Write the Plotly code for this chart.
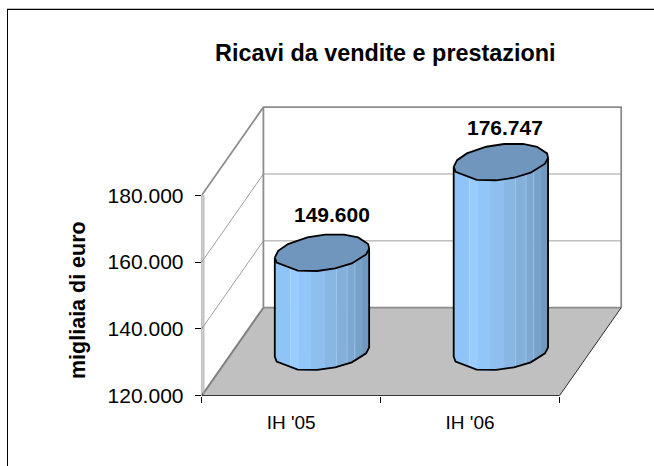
import math
import plotly.graph_objects as go

categories = ["IH '05", "IH '06"]
values = [149600, 176747]
value_labels = ["149.600", "176.747"]
y_ticks = [120000, 140000, 160000, 180000]
y_tick_labels = ["120.000", "140.000", "160.000", "180.000"]
title = "Ricavi da vendite e prestazioni"
y_title = "migliaia di euro"

W, H = 654, 466
LEFT_PX, BASE_PX = 201.7, 395.7
PX_X = 178.9          # pixels per category
PX_Y = 200.5 / 60000  # pixels per value unit
DX = 61.7 / PX_X      # depth shift in category units
DY = 88.0 / PX_Y      # depth shift in value units
Y0, Y1 = 120000, 180000

# cylinder shape: facet angles (deg), colours of the visible facets, outline angles
facet_angles = [-165, -116, -103, -87, -70, -56, -42, -30, -14, 13]
front_angles = [-165, -148, -105, -80, -58, -35, -5, 13]
back_angles = [28, 56, 78, 102, 124, 152, 174]
facet_colors = ["#8FC4F8", "#99CCFF", "#93C6F8", "#8EBFEE", "#89B7E4",
                "#83AFDB", "#7DA8D2", "#78A1C9", "#7098C0"]
seams = [-116, -56, -42, -30]
top_color = "#7096BE"
RX = 45.4 / PX_X
RD = 0.21


def ring(cx, val, t):
    r = math.radians(t)
    return (cx + DX / 2 + RX * math.cos(r) + RD * DX * math.sin(r),
            val + DY / 2 + RD * DY * math.sin(r))


fig = go.Figure()


def poly(xs, ys, fill=None, color=None, width=0, close=True):
    if close:
        xs, ys = list(xs) + [xs[0]], list(ys) + [ys[0]]
    fig.add_trace(go.Scatter(
        x=xs, y=ys, mode="lines", fill="toself" if fill else None,
        fillcolor=fill, cliponaxis=False, hoverinfo="skip", showlegend=False,
        line=dict(color=color or "rgba(0,0,0,0)", width=width)))


n = len(categories)
# floor
poly([0, n, n + DX, DX], [Y0, Y0, Y0 + DY, Y0 + DY], fill="#C0C0C0")
# grid on the walls
for v in y_ticks[1:-1]:
    poly([0, DX, n + DX], [v, v + DY, v + DY], color="#9E9E9E", width=1, close=False)
# wall edges
poly([0, DX, n + DX, n + DX], [Y1, Y1 + DY, Y1 + DY, Y0 + DY],
     color="#8C8C8C", width=1.8, close=False)
poly([DX, DX], [Y1 + DY, Y0 + DY], color="#8C8C8C", width=1.8, close=False)
poly([DX, n + DX], [Y0 + DY, Y0 + DY], color="#8C8C8C", width=1.8, close=False)
poly([0, DX], [Y0, Y0 + DY], color="#808080", width=2, close=False)
poly([n, n + DX], [Y0, Y0 + DY], color="#000000", width=0.8, close=False)
# axes
poly([0.012, 0.012], [Y0, Y1], color="#A0A0A0", width=1, close=False)
poly([0, 0], [Y0, Y1], color="#000000", width=1, close=False)
poly([0, n], [Y0, Y0], color="#000000", width=1.2, close=False)

# cylinders
for i, val in enumerate(values):
    cx = i + 0.5
    for k, col in enumerate(facet_colors):
        a, b = facet_angles[k], facet_angles[k + 1]
        pts = [ring(cx, val, a), ring(cx, val, b), ring(cx, Y0, b), ring(cx, Y0, a)]
        poly([p[0] for p in pts], [p[1] for p in pts], fill=col, color=col, width=0.5)
    # bottom face filler so the lower edge follows the outline
    pts = [ring(cx, Y0, a) for a in front_angles]
    poly([p[0] for p in pts], [p[1] for p in pts], fill="#8EBFEE", color="#8EBFEE", width=0)
    for k, col in enumerate(facet_colors):
        a, b = facet_angles[k], facet_angles[k + 1]
        pts = [ring(cx, val, a), ring(cx, val, b), ring(cx, Y0, b), ring(cx, Y0, a)]
        poly([p[0] for p in pts], [p[1] for p in pts], fill=col, color=col, width=0.5)
    for s in seams:
        p, q = ring(cx, val, s), ring(cx, Y0, s)
        poly([p[0], q[0]], [p[1], q[1]], color="rgba(205,228,250,0.55)", width=0.8, close=False)
    # lower outline and sides
    arc = front_angles
    pts = [ring(cx, val, arc[0])] + [ring(cx, Y0, a) for a in arc] + [ring(cx, val, arc[-1])]
    poly([p[0] for p in pts], [p[1] for p in pts], color="#000000", width=1.8, close=False)
    # top face
    pts = [ring(cx, val, a) for a in front_angles + back_angles]
    poly([p[0] for p in pts], [p[1] for p in pts], fill=top_color, color="#000000", width=1.8)

FS = 21
label_shift = [(10, 38), (4, 35)]
annotations = [
    dict(x=i + 0.5 + DX / 2, y=v + DY / 2, text="<b>" + value_labels[i] + "</b>", showarrow=False,
         xshift=label_shift[i][0], yshift=label_shift[i][1], xanchor="center", yanchor="middle",
         font=dict(family="Liberation Sans", size=FS, color="#000000"))
    for i, v in enumerate(values)
]
annotations += [
    dict(xref="paper", yref="paper", x=385 / W, y=1 - 53 / H, text="<b>" + title + "</b>",
         showarrow=False, xanchor="center", yanchor="middle",
         font=dict(family="Liberation Sans", size=23.4, color="#000000")),
    dict(xref="paper", yref="paper", x=78 / W, y=1 - 300 / H, text="<b>" + y_title + "</b>",
         showarrow=False, textangle=-90, xanchor="center", yanchor="middle",
         font=dict(family="Liberation Sans", size=21.5, color="#000000")),
]

fig.update_layout(
    template="none",
    width=W, height=H, autosize=False, margin=dict(l=0, r=0, t=0, b=0, pad=0),
    paper_bgcolor="#FFFFFF", plot_bgcolor="#FFFFFF", showlegend=False,
    annotations=annotations,
    shapes=[
        dict(type="line", xref="paper", yref="paper", x0=7.5 / W, x1=7.5 / W, y0=0, y1=1 - 9 / H,
             line=dict(color="#000000", width=1)),
        dict(type="line", xref="paper", yref="paper", x0=7 / W, x1=1, y0=1 - 9.5 / H, y1=1 - 9.5 / H,
             line=dict(color="#000000", width=1)),
        dict(type="line", xref="paper", yref="paper", x0=7 / W, x1=1, y0=1 - 8.5 / H, y1=1 - 8.5 / H,
             line=dict(color="#BBBBBB", width=1)),
    ],
    xaxis=dict(domain=[LEFT_PX / W, 1], range=[0, (W - LEFT_PX) / PX_X], automargin=False,
               tickvals=[i + 0.5 for i in range(n)], ticktext=categories, ticks="",
               ticklabelstandoff=13,
               showgrid=False, zeroline=False, showline=False, fixedrange=True,
               tickfont=dict(family="Liberation Sans", size=19, color="#000000"),
               minor=dict(tickvals=list(range(n + 1)), ticks="outside", ticklen=6,
                          tickcolor="#000000", tickwidth=1, showgrid=False)),
    yaxis=dict(domain=[1 - BASE_PX / H, 1], range=[Y0, Y0 + BASE_PX / PX_Y], automargin=False,
               tickvals=y_ticks, ticktext=y_tick_labels, ticks="outside", ticklen=6,
               ticklabelstandoff=7,
               tickcolor="#000000", tickwidth=1, showgrid=False, zeroline=False,
               showline=False, fixedrange=True,
               tickfont=dict(family="Liberation Sans", size=FS, color="#000000")),
)

fig.write_html("out.html", config={"displayModeBar": False},
               post_script="document.body.style.margin='0';")
